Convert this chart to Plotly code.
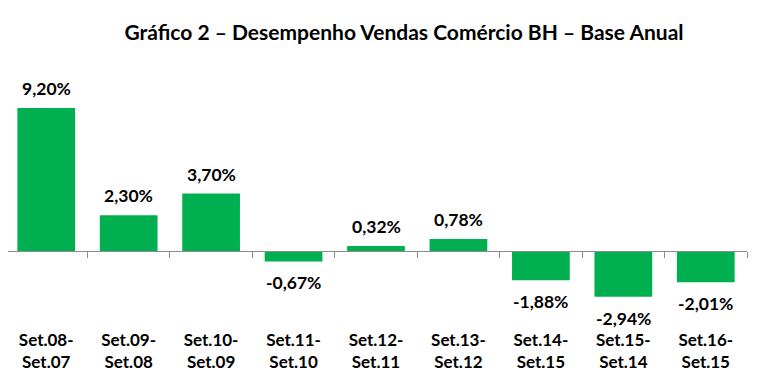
import plotly.graph_objects as go

categories = ["Set.08-<br>Set.07", "Set.09-<br>Set.08", "Set.10-<br>Set.09", "Set.11-<br>Set.10",
              "Set.12-<br>Set.11", "Set.13-<br>Set.12", "Set.14-<br>Set.15", "Set.15-<br>Set.14",
              "Set.16-<br>Set.15"]
values = [9.20, 2.30, 3.70, -0.67, 0.32, 0.78, -1.88, -2.94, -2.01]
labels = ["9,20%", "2,30%", "3,70%", "-0,67%", "0,32%", "0,78%", "-1,88%", "-2,94%", "-2,01%"]

FONT = "Lato"
ymin, ymax = -4.44, 12.29
zero_frac = (0 - ymin) / (ymax - ymin)

W, H = 750, 374  # page body adds an 8px offset

fig = go.Figure()
fig.add_trace(go.Bar(x=categories, y=values, marker_color="#00B050", marker_line_width=0,
                     hoverinfo="skip"))

for c, v, t in zip(categories, values, labels):
    fig.add_annotation(x=c, y=v, text="<b>%s</b>" % t, showarrow=False,
                       yanchor="bottom" if v >= 0 else "top",
                       yshift=7 if v >= 0 else -9,
                       font=dict(family=FONT, size=17.5, color="#000000"))

fig.update_layout(
    width=W, height=H,
    margin=dict(l=0, r=11, t=52, b=62, autoexpand=False),
    paper_bgcolor="white", plot_bgcolor="white",
    showlegend=False, bargap=0.3,
    title=dict(text="<b>Gráfico 2 – Desempenho Vendas Comércio BH – Base Anual</b>",
               xref="container", yref="container", x=396 / W, y=1 - 25 / H,
               xanchor="center", yanchor="middle",
               font=dict(family=FONT, size=21, color="#000000")),
    xaxis=dict(type="category", anchor="free", position=zero_frac, automargin=False,
               range=[-0.4636, 8.5],
               showline=True, linecolor="#8C8C8C", linewidth=1,
               ticks="outside", ticklen=6, tickcolor="#8C8C8C", tickson="boundaries",
               showgrid=False, zeroline=False, ticklabelstandoff=74,
               tickfont=dict(family=FONT, size=17, color="#000000", weight="bold")),
    yaxis=dict(range=[ymin, ymax], visible=False, showgrid=False, zeroline=False,
               automargin=False),
)

fig.write_html("out.html")
